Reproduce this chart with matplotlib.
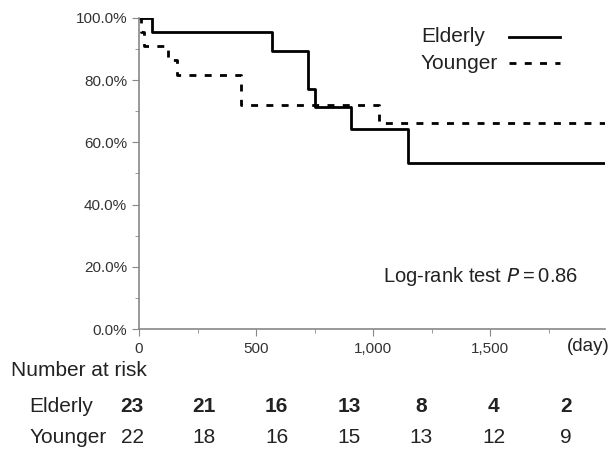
import matplotlib.pyplot as plt
from matplotlib.ticker import MultipleLocator, FuncFormatter

# survival curves (day, survival %)
eld_days = [0, 55, 568, 722, 752, 906, 1150, 1990]
eld_surv = [100.0, 95.4, 89.4, 77.2, 71.4, 64.3, 53.4, 53.4]
yng_days = [0, 10, 20, 124, 162, 436, 1026, 1990]
yng_surv = [100.0, 95.5, 90.9, 86.4, 81.8, 72.0, 66.2, 66.2]

# number at risk table
eld_risk = [23, 21, 16, 13, 8, 4, 2]
yng_risk = [22, 18, 16, 15, 13, 12, 9]

plt.rcParams['font.family'] = ['Liberation Sans', 'DejaVu Sans']
fig = plt.figure(figsize=(6.16, 4.51), dpi=100)
ax = fig.add_axes([0.2256, 0.2705, 0.7565, 0.6896])

ax.step(eld_days, eld_surv, where='post', color='black', lw=2)
ax.step(yng_days, yng_surv, where='post', color='black', lw=2, dashes=(2.5, 3))

ax.set_xlim(0, 1990)
ax.set_ylim(0, 100)
for s in ['top', 'right']:
    ax.spines[s].set_visible(False)
for s in ['left', 'bottom']:
    ax.spines[s].set_color('#888888')
    ax.spines[s].set_linewidth(1.2)

ax.yaxis.set_major_locator(MultipleLocator(20))
ax.yaxis.set_minor_locator(MultipleLocator(10))
ax.yaxis.set_major_formatter(FuncFormatter(lambda v, p: '%.1f%%' % v))
ax.xaxis.set_major_locator(MultipleLocator(500))
ax.xaxis.set_minor_locator(MultipleLocator(250))
ax.xaxis.set_major_formatter(FuncFormatter(lambda v, p: '{:,.0f}'.format(v)))
ax.tick_params(axis='both', which='major', length=5, color='#888888', labelcolor='#333333')
ax.tick_params(axis='both', which='minor', length=3, color='#888888')
ax.tick_params(axis='y', labelsize=11)
ax.tick_params(axis='x', labelsize=11, pad=4)

# legend drawn by hand
ax.text(0.605, 0.939, 'Elderly', transform=ax.transAxes, fontsize=15, va='center', color='#222222')
ax.text(0.605, 0.855, 'Younger', transform=ax.transAxes, fontsize=15, va='center', color='#222222')
ax.plot([0.794, 0.903], [0.939, 0.939], transform=ax.transAxes, color='black', lw=2)
ax.plot([0.794, 0.903], [0.855, 0.855], transform=ax.transAxes, color='black', lw=2, dashes=(2.5, 3))

ax.text(0.523, 0.17, 'Log-rank test $\\it{P}$\u2009=\u20090.86', transform=ax.transAxes,
        fontsize=14.5, va='center', color='#222222')
ax.text(1.01, -0.055, '(day)', transform=ax.transAxes, fontsize=13.5, va='center', ha='right',
        color='#222222')

# number at risk
fig.text(0.018, 0.179, 'Number at risk', fontsize=15, va='center', color='#222222')
fig.text(0.048, 0.099, 'Elderly', fontsize=15, va='center', color='#222222')
fig.text(0.048, 0.031, 'Younger', fontsize=15, va='center', color='#222222')
for i, (e, y) in enumerate(zip(eld_risk, yng_risk)):
    xf = (132 + 72.3 * i) / 616
    fig.text(xf, 0.099, str(e), fontsize=15, ha='center', va='center', fontweight='bold',
             color='#222222')
    fig.text(xf, 0.031, str(y), fontsize=15, ha='center', va='center', color='#222222')

fig.savefig('out.png', dpi=100)
